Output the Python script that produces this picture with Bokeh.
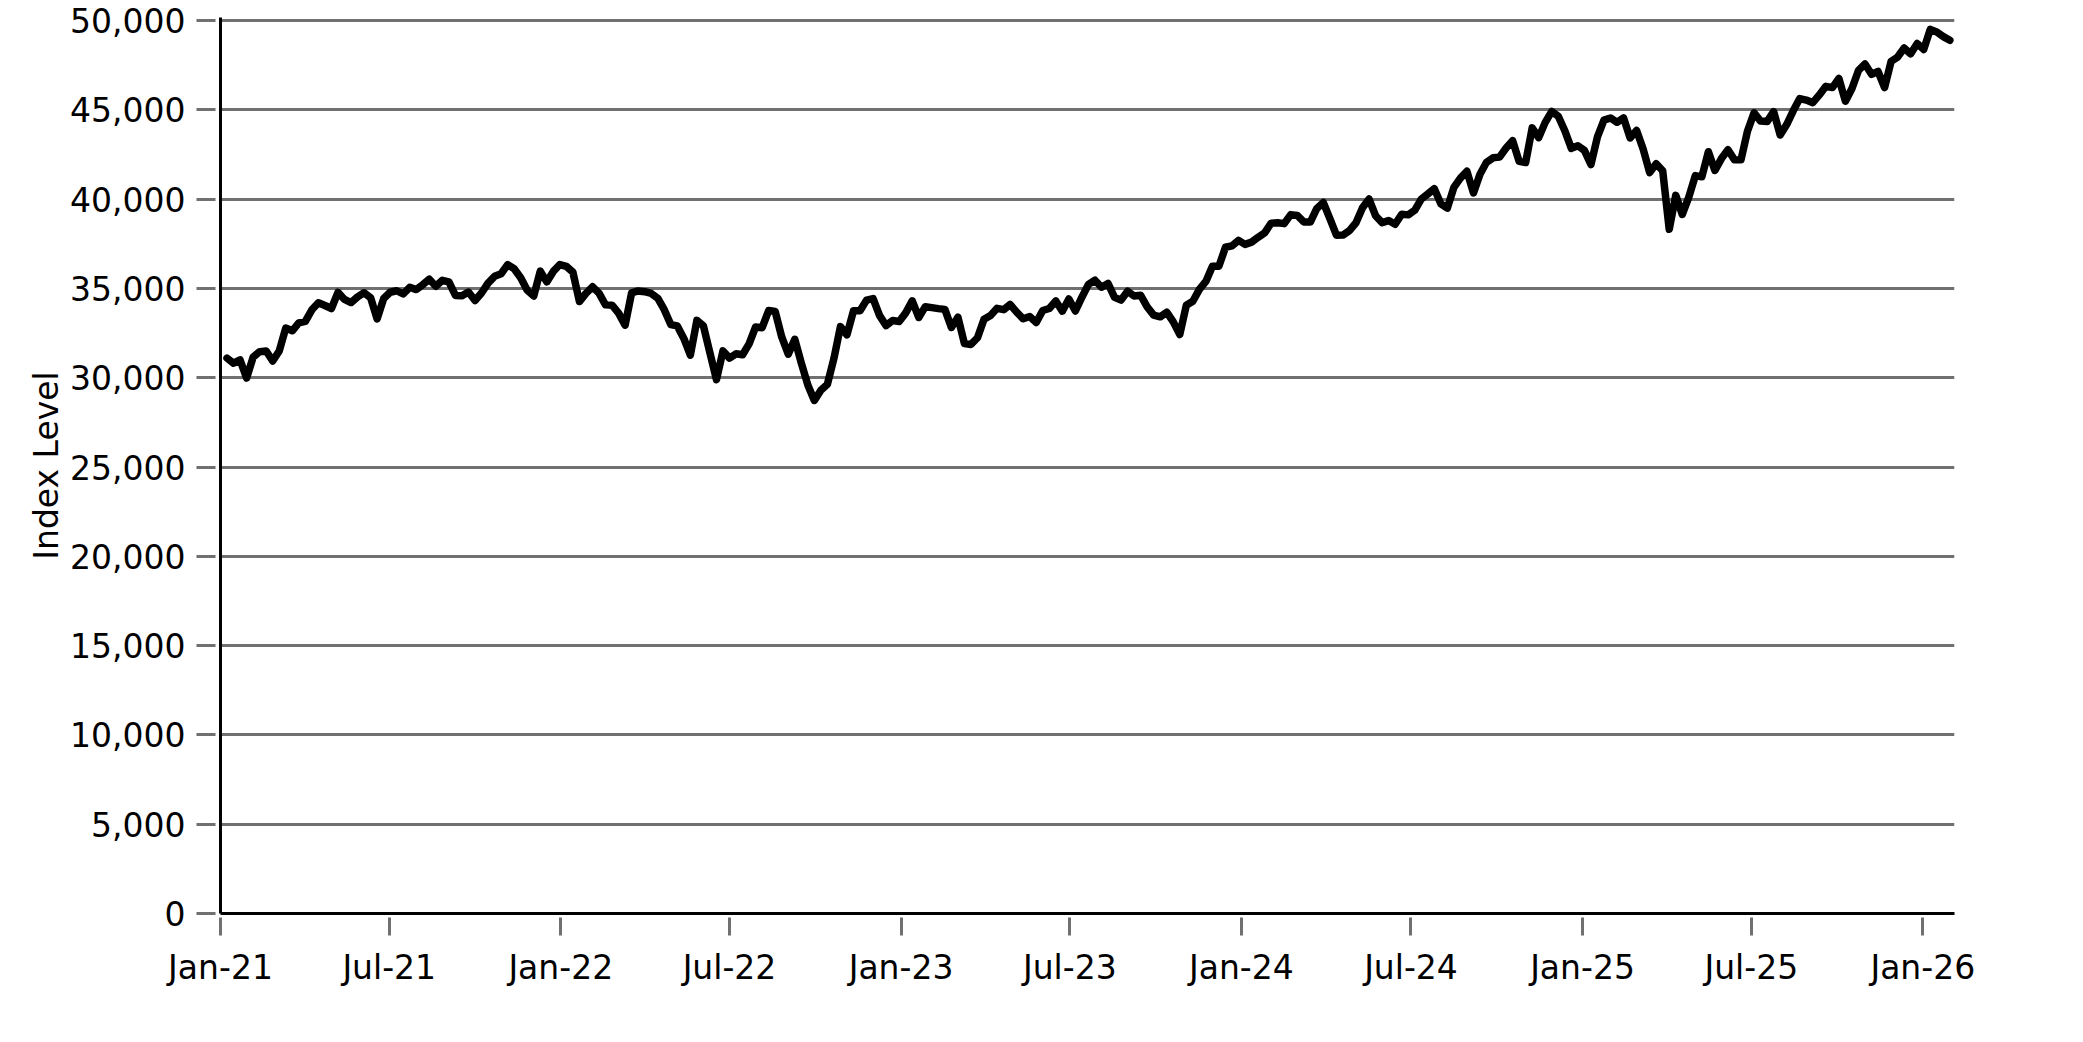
import pandas as pd
from bokeh.plotting import figure
from bokeh.models import (FixedTicker, NumeralTickFormatter, DatetimeTickFormatter,
                          Range1d, ColumnDataSource)
from bokeh.embed import file_html
from bokeh.resources import INLINE

# ---------------- data (weekly closes, Fridays) ----------------
first_week = "2021-01-08"
last_week = "2026-01-30"

values_2021 = [31098, 30814, 30997, 29983,
               31148, 31458, 31494, 30932,
               31496, 32779, 32628, 33073,
               33153, 33801, 34201, 34043, 33875,
               34778, 34382, 34208, 34529,
               34756, 34480, 33290, 34434,
               34786, 34870, 34688, 35062, 34935,
               35209, 35515, 35120, 35456,
               35369, 34608, 34585, 34798,
               34326, 34746, 35295, 35677, 35820,
               36328, 36100, 35602, 34899,
               34580, 35971, 35365, 35951, 36338]
values_2022 = [36232, 35912, 34265, 34725,
               35090, 34738, 34079, 34059,
               33615, 32944, 34755, 34861,
               34818, 34721, 34451, 33811, 32977,
               32899, 32197, 31262, 33213,
               32900, 31393, 29889, 31501,
               31097, 31338, 31288, 31899, 32845,
               32803, 33761, 33707, 32283,
               31318, 32152, 30822, 29590, 28726,
               29297, 29635, 31083, 32862,
               32403, 33748, 33746, 34347,
               34430, 33476, 32920, 33204, 33147]
values_2023 = [33631, 34303, 33375, 33978,
               33926, 33869, 33827, 32817,
               33391, 31910, 31862, 32238, 33274,
               33485, 33886, 33809, 34098,
               33674, 33301, 33427, 33093,
               33763, 33877, 34299, 33727, 34408,
               33735, 34509, 35228, 35459,
               35066, 35281, 34501, 34347,
               34838, 34577, 34618, 33964, 33508,
               33408, 33670, 33127, 32418,
               34061, 34283, 34947, 35390,
               36246, 36248, 37305, 37386, 37690]
values_2024 = [37466, 37593, 37864, 38109,
               38654, 38672, 38628, 39132,
               39087, 38723, 38715, 39476, 39807,
               38904, 37983, 37986, 38240,
               38676, 39513, 40004, 39070, 38686,
               38799, 38589, 39150, 39119,
               39376, 40001, 40288, 40589,
               39737, 39498, 40660, 41175, 41563,
               40345, 41394, 42063, 42313,
               42353, 42864, 43276, 42114,
               42052, 43989, 43445, 44297, 44911,
               44643, 43828, 42840, 42992]
values_2025 = [42732, 41938, 43488, 44424, 44545,
               44303, 44546, 43428, 43841,
               42802, 41488, 41985, 41584,
               38315, 40213, 39142, 40114,
               41317, 41249, 42655, 41603, 42270,
               42763, 42198, 42207, 43819,
               44829, 44372, 44342, 44902,
               43589, 44176, 44946, 45632, 45545,
               45401, 45834, 46315, 46247,
               46758, 45480, 46191, 47207, 47563,
               46987, 47147, 46245, 47716,
               47955, 48458, 48135, 48711]
values_2026 = [48382, 49504, 49359, 49099, 48892]

index_level = values_2021 + values_2022 + values_2023 + values_2024 + values_2025 + values_2026
week_dates = pd.date_range(first_week, last_week, freq="W-FRI")
assert len(week_dates) == len(index_level)

tick_dates = ["2021-01-01", "2021-07-01", "2022-01-01", "2022-07-01", "2023-01-01",
              "2023-07-01", "2024-01-01", "2024-07-01", "2025-01-01", "2025-07-01",
              "2026-01-01"]
tick_labels = ["Jan-21", "Jul-21", "Jan-22", "Jul-22", "Jan-23", "Jul-23",
               "Jan-24", "Jul-24", "Jan-25", "Jul-25", "Jan-26"]
y_ticks = [0, 5000, 10000, 15000, 20000, 25000, 30000, 35000, 40000, 45000, 50000]
y_axis_title = "Index Level"

# ---------------- figure ----------------
def ms(d):
    return pd.Timestamp(d).value // 10**6

x_start, x_end = ms("2021-01-01"), ms("2026-02-04")

src = ColumnDataSource(dict(date=week_dates, value=index_level))

FONT = "DejaVu Sans"
FS = "33px"
GRID = "#707070"

p = figure(width=2070, height=1030, x_axis_type="datetime",
           x_range=Range1d(x_start, x_end), y_range=Range1d(0, 50170),
           output_backend="svg", toolbar_location=None,
           min_border_left=220, min_border_right=116,
           min_border_top=17, min_border_bottom=117)
p.outline_line_color = None
p.background_fill_color = "white"
p.border_fill_color = "white"

p.line(x="date", y="value", source=src, line_color="black", line_width=7.5,
       line_join="round", line_cap="round")

# x axis
xa = p.xaxis[0]
tick_ms = [ms(d) for d in tick_dates]
xa.ticker = FixedTicker(ticks=tick_ms, minor_ticks=[])
xa.formatter = DatetimeTickFormatter(days="%b-%y", months="%b-%y", years="%b-%y",
                                     hours="%b-%y", minutes="%b-%y")
xa.major_label_overrides = {t: lab for t, lab in zip(tick_ms, tick_labels)}
xa.axis_line_color = "black"
xa.axis_line_width = 3
xa.major_tick_line_color = GRID
xa.major_tick_line_width = 3
xa.major_tick_in = -4
xa.major_tick_out = 22
xa.minor_tick_line_color = None
xa.major_label_standoff = 12
xa.major_label_text_font = FONT
xa.major_label_text_font_size = FS
xa.major_label_text_color = "black"

# y axis
ya = p.yaxis[0]
ya.ticker = FixedTicker(ticks=y_ticks, minor_ticks=[])
ya.formatter = NumeralTickFormatter(format="0,0")
ya.axis_line_color = "black"
ya.axis_line_width = 3
ya.major_tick_line_color = GRID
ya.major_tick_line_width = 3
ya.major_tick_in = -5
ya.major_tick_out = 24
ya.minor_tick_line_color = None
ya.major_label_standoff = 11
ya.major_label_text_font = FONT
ya.major_label_text_font_size = FS
ya.major_label_text_color = "black"
ya.axis_label = y_axis_title
ya.axis_label_text_font = FONT
ya.axis_label_text_font_size = FS
ya.axis_label_text_font_style = "normal"
ya.axis_label_text_color = "black"
ya.axis_label_standoff = 1

p.xgrid.grid_line_color = None
p.ygrid.grid_line_color = GRID
p.ygrid.grid_line_width = 3

open("out.html", "w").write(file_html(p, INLINE))
